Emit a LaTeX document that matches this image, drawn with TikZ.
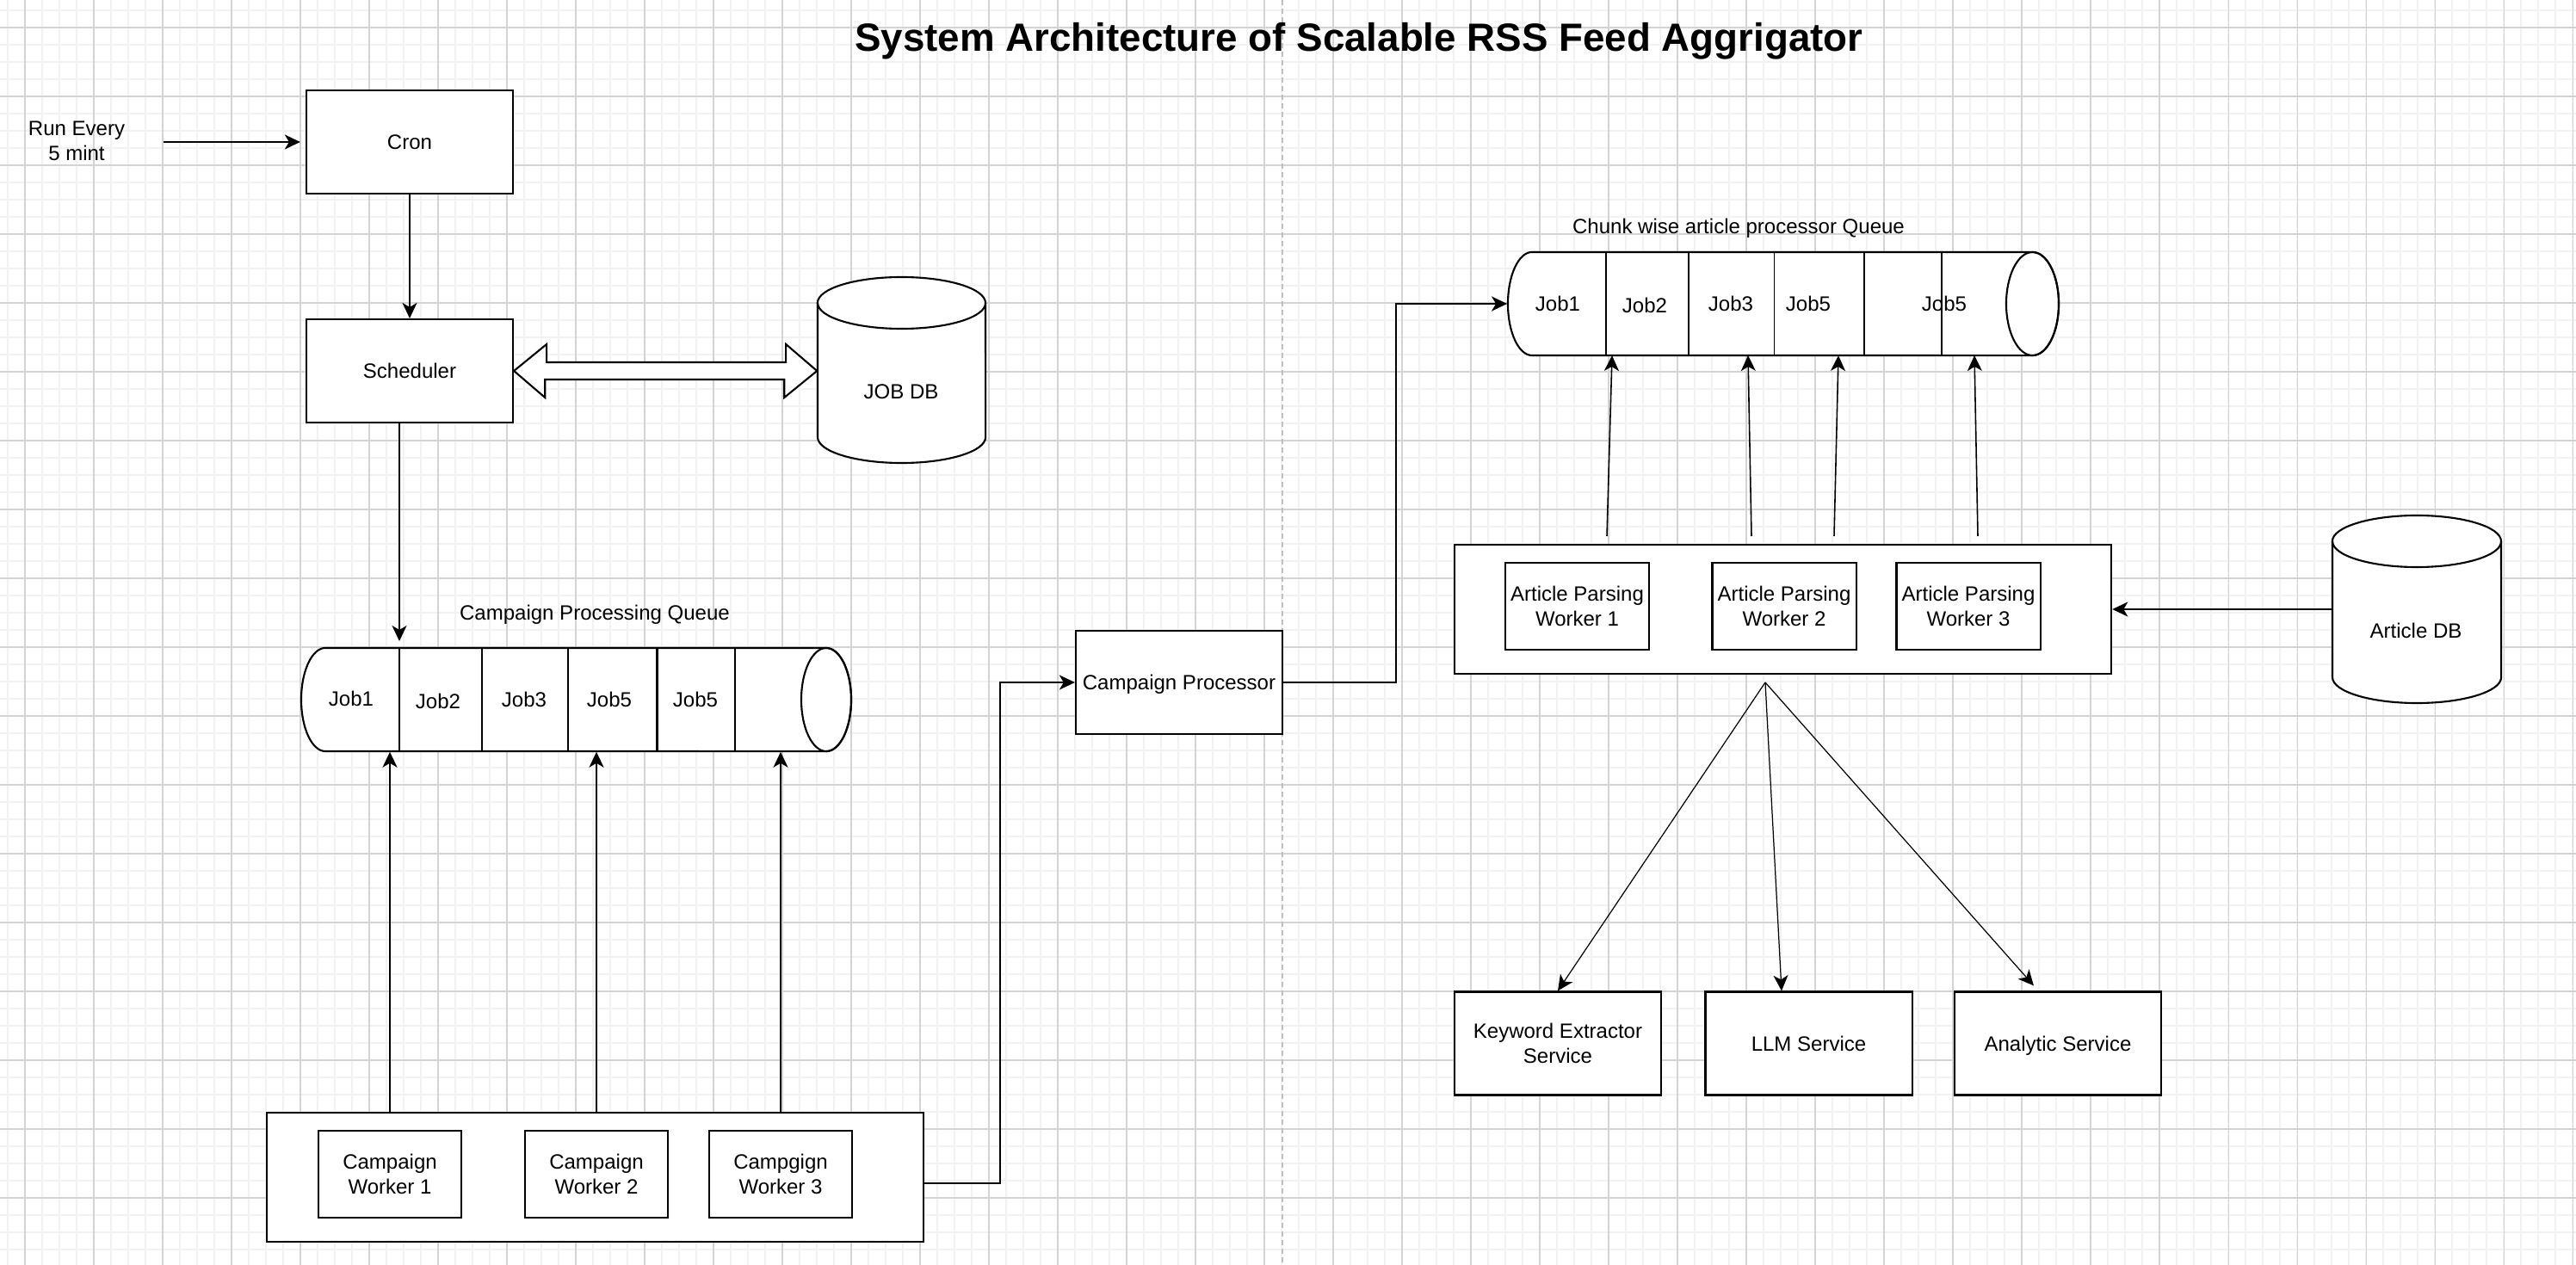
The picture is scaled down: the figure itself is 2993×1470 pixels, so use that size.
\documentclass[tikz,border=0pt]{standalone}
\usepackage{fontspec}
\setmainfont{Liberation Sans}
\usetikzlibrary{arrows.meta}
\newcommand{\dgfont}{\fontsize{6.83pt}{8.1pt}\selectfont}
\newcommand{\dgtitle}{\fontsize{13pt}{15pt}\selectfont\bfseries}
\definecolor{gridminor}{HTML}{F2F2F2}
\definecolor{gridmajor}{HTML}{D3D3D3}
\definecolor{splitline}{HTML}{C0C0C0}

\begin{document}
\begin{tikzpicture}[x=0.01cm, y=-0.01cm,
  box/.style={draw, line width=0.6pt, fill=white, minimum width=2.4cm, minimum height=1.2cm, inner sep=0pt, align=center, font=\dgfont},
  oneline/.style={text height=0.222cm, text depth=0.05cm},
  worker/.style={box, minimum width=1.66cm, minimum height=1.01cm},
  pool/.style={box, minimum width=7.63cm, minimum height=1.5cm},
  frame/.style={inner sep=0pt},
  lbl/.style={font=\dgfont, align=center, inner sep=0pt},
  shp/.style={line width=0.6pt, fill=white},
  arr/.style={line width=0.6pt, -{Stealth[length=0.18cm, width=0.17cm, inset=0.05cm]}},
  thinarr/.style={arr, line width=0.45pt},
  fanarr/.style={arr, line width=0.35pt}]
\useasboundingbox (0,0) rectangle (2993,1470);
\fill[white] (0,0) rectangle (2993,1470);
\foreach \gx in {9,29,...,2989} \draw[gridminor, line width=0.45pt] (\gx,0) -- (\gx,1470);
\foreach \gy in {12,32,...,1452} \draw[gridminor, line width=0.45pt] (0,\gy) -- (2993,\gy);
\foreach \gx in {29,109,...,2989} \draw[gridmajor, line width=0.3pt] (\gx,0) -- (\gx,1470);
\foreach \gy in {32,112,...,1432} \draw[gridmajor, line width=0.3pt] (0,\gy) -- (2993,\gy);
\draw[splitline, line width=0.55pt, dash pattern=on 0.06cm off 0.04cm] (1490,0) -- (1490,1470);

\node[font=\dgtitle, inner sep=0pt, anchor=base] (title) at (1579,60) {System Architecture of Scalable RSS Feed Aggrigator};

\node[lbl] (run) at (89,164) {Run Every\\5 mint};
\coordinate (tick) at (190,165);
\node[box, oneline] (cron) at (476,165) {Cron};
\node[box, oneline] (sched) at (476,431) {Scheduler};
\draw[arr, shorten >=0.06cm] (tick) -- (cron);
\draw[arr] (cron) -- (sched);

\draw[shp] (950,352) -- (950,508) arc[start angle=180, end angle=360, x radius=0.975cm, y radius=0.3cm] -- (1145,352) arc[start angle=0, end angle=180, x radius=0.975cm, y radius=0.3cm] -- cycle;
\draw[line width=0.6pt] (950,352) arc[start angle=180, end angle=360, x radius=0.975cm, y radius=0.3cm];
\node[frame, minimum width=1.95cm, minimum height=2.16cm] (jobdb) at (1047.5,431) {};
\node[lbl, oneline] (jobdblbl) at (1047,455) {JOB DB};
\draw[shp] (sched.east) -- ++(38,-31) -- ++(0,21) -- ++(278,0) -- ++(0,-21) -- (jobdb.west) -- ++(-38,31) -- ++(0,-21) -- ++(-278,0) -- ++(0,21) -- cycle;

\draw[shp] (378,753) -- (960,753) arc[start angle=90, end angle=-90, x radius=0.29cm, y radius=0.6cm] -- (378,873) arc[start angle=270, end angle=90, x radius=0.28cm, y radius=0.6cm] -- cycle;
\draw[line width=0.6pt] (960,813) ellipse[x radius=0.29cm, y radius=0.6cm];
\foreach \dx in {464,560,660,763.5,854} \draw[line width=0.6pt] (\dx,753) -- (\dx,873);
\node[frame, minimum width=6.39cm, minimum height=1.2cm] (cq) at (669.5,813) {};
\node[lbl, oneline] (cqlbl) at (691,712) {Campaign Processing Queue};
\foreach \jx/\jy/\jt [count=\ji] in {408/812/Job1,509/815/Job2,609/813/Job3,708/813/Job5,808/813/Job5}
  \node[lbl, oneline] (cqjob\ji) at (\jx,\jy) {\jt};
\coordinate (cqin) at (464,745);
\draw[arr] (sched.south -| cqin) -- (cqin);

\node[pool] (cpool) at (691.5,1368) {};
\node[worker] (cw1) at (453,1364.5) {Campaign\\Worker 1};
\node[worker] (cw2) at (693,1364.5) {Campaign\\Worker 2};
\node[worker] (cw3) at (907,1364.5) {Campgign\\Worker 3};
\foreach \w in {cw1,cw2,cw3}
  \draw[arr] (cpool.north -| \w) -- (cq.south -| \w);

\node[box, oneline] (cp) at (1370,793) {Campaign Processor};
\draw[arr] ([yshift=-0.07cm]cpool.east) -- ++(88,0) |- (cp.west);

\draw[shp] (1780,293) -- (2361.5,293) arc[start angle=90, end angle=-90, x radius=0.305cm, y radius=0.6cm] -- (1780,413) arc[start angle=270, end angle=90, x radius=0.28cm, y radius=0.6cm] -- cycle;
\draw[line width=0.6pt] (2361.5,353) ellipse[x radius=0.305cm, y radius=0.6cm];
\foreach \dx in {1866,1962,2061.5,2166,2256} \draw[line width=0.45pt] (\dx,293) -- (\dx,413);
\node[frame, minimum width=6.4cm, minimum height=1.2cm] (aq) at (2072,353) {};
\node[lbl, oneline] (aqlbl) at (2020,263) {Chunk wise article processor Queue};
\foreach \jx/\jy/\jt [count=\ji] in {1810/353/Job1,1911/355/Job2,2011/353/Job3,2101/353/Job5,2259/353/Job5}
  \node[lbl, oneline] (aqjob\ji) at (\jx,\jy) {\jt};
\draw[arr] (cp.east) -- ++(131,0) |- (aq.west);

\node[pool] (apool) at (2071.5,708) {};
\node[worker, minimum width=1.67cm] (aw1) at (1832.5,704.5) {Article Parsing\\Worker 1};
\node[worker, minimum width=1.67cm] (aw2) at (2073,704.5) {Article Parsing\\Worker 2};
\node[worker, minimum width=1.67cm] (aw3) at (2287,704.5) {Article Parsing\\Worker 3};
\foreach \sx/\tx [count=\ai] in {1867/1873,2035/2031,2131/2136,2298/2294} {
  \coordinate (apout\ai) at (\sx,623);
  \coordinate (aqin\ai) at (\tx,413);
  \draw[thinarr] (apout\ai) -- (aqin\ai);
}

\draw[shp] (2710,629) -- (2710,787) arc[start angle=180, end angle=360, x radius=0.98cm, y radius=0.3cm] -- (2906,629) arc[start angle=0, end angle=180, x radius=0.98cm, y radius=0.3cm] -- cycle;
\draw[line width=0.6pt] (2710,629) arc[start angle=180, end angle=360, x radius=0.98cm, y radius=0.3cm];
\node[frame, minimum width=1.96cm, minimum height=2.18cm] (adb) at (2808,708) {};
\node[lbl, oneline] (adblbl) at (2807,733) {Article DB};
\draw[arr] (adb.west) -- (apool.east);

\coordinate (fan) at (2051,793);
\node[box] (kes) at (1810,1212.5) {Keyword Extractor\\Service};
\node[box, oneline] (llm) at (2101.5,1212.5) {LLM Service};
\node[box, oneline] (ana) at (2391,1212.5) {Analytic Service};
\draw[fanarr] (fan) -- (kes.north);
\draw[fanarr] (fan) -- ([xshift=-0.315cm]llm.north);
\draw[fanarr] (fan) -- ([xshift=-0.28cm, yshift=0.06cm]ana.north);

\end{tikzpicture}
\end{document}
